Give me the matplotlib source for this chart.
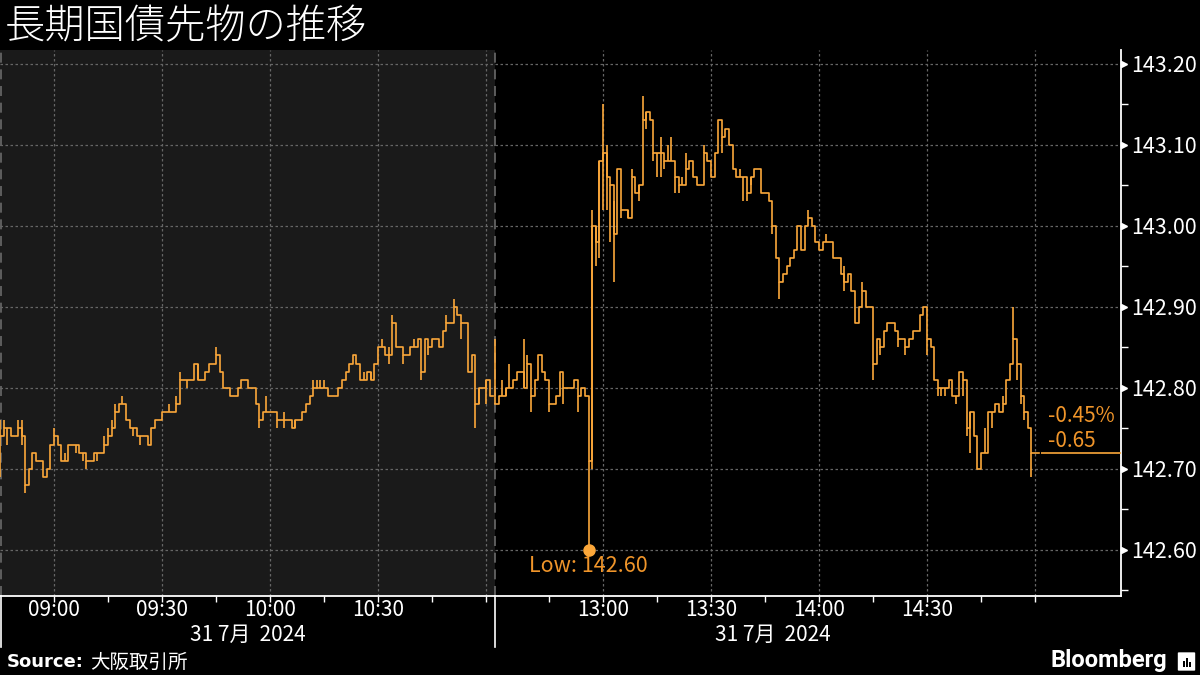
import numpy as np
import matplotlib
matplotlib.use('Agg')
import matplotlib.pyplot as plt
from matplotlib.transforms import ScaledTranslation, blended_transform_factory
from matplotlib.patches import FancyBboxPatch, Rectangle

plt.rcParams['font.family'] = ['Noto Sans CJK JP', 'DejaVu Sans']

title = '長期国債先物の推移'
source = '大阪取引所'
date_label = '31 7月  2024'

# session layout (minutes)
am_start, am_end = '08:45', '11:02'
pm_start = '12:30'
gap_pos = 137.5          # where afternoon session starts on the x axis

# 1-minute closes, morning session from 08:45
am_close = [142.74, 142.75, 142.75, 142.74, 142.74, 142.75, 142.74, 142.68, 142.70, 142.72,
            142.71, 142.71, 142.69, 142.70, 142.73, 142.74, 142.73, 142.71, 142.71, 142.73,
            142.73, 142.73, 142.72, 142.72, 142.71, 142.71, 142.72, 142.72, 142.72, 142.73,
            142.74, 142.75, 142.77, 142.78, 142.78, 142.76, 142.75, 142.75, 142.74, 142.74,
            142.74, 142.73, 142.75, 142.76, 142.76, 142.77, 142.77, 142.77, 142.77, 142.78,
            142.81, 142.81, 142.81, 142.81, 142.83, 142.81, 142.81, 142.82, 142.83, 142.83,
            142.84, 142.82, 142.80, 142.80, 142.79, 142.79, 142.80, 142.81, 142.81, 142.80,
            142.80, 142.78, 142.76, 142.77, 142.77, 142.77, 142.77, 142.76, 142.76, 142.76,
            142.76, 142.75, 142.76, 142.76, 142.77, 142.78, 142.79, 142.80, 142.80, 142.80,
            142.80, 142.79, 142.79, 142.79, 142.80, 142.81, 142.82, 142.83, 142.84, 142.83,
            142.81, 142.81, 142.82, 142.81, 142.83, 142.85, 142.85, 142.84, 142.84, 142.88,
            142.85, 142.85, 142.84, 142.84, 142.85, 142.85, 142.86, 142.82, 142.86, 142.85,
            142.86, 142.86, 142.85, 142.87, 142.88, 142.88, 142.90, 142.89, 142.88, 142.88,
            142.82, 142.84, 142.78, 142.80, 142.80, 142.81, 142.79]
am_high = {0: 142.76, 1: 142.76, 5: 142.76, 6: 142.76, 15: 142.75, 18: 142.72, 29: 142.74,
           30: 142.75, 31: 142.76, 32: 142.78, 34: 142.79, 47: 142.78, 49: 142.79, 50: 142.82,
           55: 142.83, 60: 142.85, 74: 142.79, 79: 142.77, 87: 142.81, 88: 142.81, 89: 142.81,
           90: 142.81, 101: 142.82, 103: 142.82, 106: 142.86, 108: 142.85, 109: 142.89,
           115: 142.86, 124: 142.89, 126: 142.91}
am_low = {0: 142.69, 2: 142.73, 6: 142.73, 7: 142.67, 21: 142.72, 23: 142.71, 24: 142.70,
          27: 142.71, 37: 142.74, 39: 142.73, 52: 142.80, 62: 142.80, 72: 142.75, 77: 142.75,
          79: 142.75, 82: 142.75, 108: 142.83, 112: 142.83, 117: 142.81, 119: 142.84,
          128: 142.86, 132: 142.75, 133: 142.78, 135: 142.78}

# 1-minute closes, afternoon session from 12:30
pm_close = [142.78, 142.79, 142.79, 142.80, 142.80, 142.81, 142.82, 142.82, 142.80, 142.83,
            142.79, 142.81, 142.84, 142.82, 142.81, 142.78, 142.78, 142.79, 142.82, 142.80,
            142.80, 142.80, 142.81, 142.79, 142.80, 142.79, 142.71, 143.00, 142.98, 143.08,
            143.09, 143.06, 143.05, 142.99, 143.07, 143.02, 143.02, 143.01, 143.06, 143.04,
            143.05, 143.13, 143.14, 143.13, 143.09, 143.09, 143.09, 143.08, 143.08, 143.08,
            143.06, 143.05, 143.05, 143.07, 143.08, 143.06, 143.05, 143.05, 143.09, 143.08,
            143.06, 143.09, 143.13, 143.11, 143.12, 143.10, 143.07, 143.06, 143.06, 143.06,
            143.04, 143.06, 143.07, 143.07, 143.04, 143.04, 143.03, 143.00, 142.96, 142.93,
            142.94, 142.95, 142.96, 142.97, 143.00, 142.97, 143.00, 143.01, 143.00, 142.98,
            142.97, 142.98, 142.98, 142.98, 142.96, 142.96, 142.94, 142.93, 142.94, 142.92,
            142.88, 142.90, 142.92, 142.90, 142.90, 142.83, 142.86, 142.85, 142.87, 142.88,
            142.88, 142.87, 142.86, 142.86, 142.85, 142.86, 142.87, 142.87, 142.89, 142.90,
            142.86, 142.85, 142.81, 142.80, 142.80, 142.80, 142.81, 142.79, 142.79, 142.82,
            142.81, 142.75, 142.77, 142.74, 142.70, 142.72, 142.72, 142.77, 142.77, 142.78,
            142.77, 142.78, 142.81, 142.83, 142.86, 142.83, 142.79, 142.77, 142.75, 142.72,
            142.72]
pm_high = {0: 142.86, 2: 142.81, 4: 142.83, 8: 142.86, 9: 142.84, 27: 143.02, 28: 143.00,
           30: 143.15, 31: 143.10, 33: 143.03, 37: 143.02, 38: 143.07, 41: 143.16, 46: 143.11,
           48: 143.10, 49: 143.11, 52: 143.06, 53: 143.09, 58: 143.10, 68: 143.07, 87: 143.02,
           92: 142.99, 97: 142.95, 102: 142.93, 136: 142.75, 141: 142.79, 144: 142.90}
pm_low = {3: 142.79, 10: 142.77, 15: 142.77, 19: 142.78, 23: 142.77, 26: 142.60, 27: 142.70,
          28: 142.95, 29: 142.96, 30: 143.02, 31: 143.02, 32: 142.98, 33: 142.93, 35: 143.01,
          40: 143.03, 42: 143.12, 44: 143.08, 45: 143.06, 46: 143.06, 47: 143.07, 50: 143.04,
          51: 143.04, 63: 143.09, 69: 143.03, 70: 143.03, 71: 143.05, 77: 142.99, 79: 142.91,
          97: 142.92, 105: 142.81, 107: 142.84, 112: 142.85, 114: 142.84, 120: 142.84,
          123: 142.79, 124: 142.79, 125: 142.79, 128: 142.78, 130: 142.79, 131: 142.74,
          132: 142.72, 138: 142.75, 145: 142.81, 146: 142.78, 147: 142.76, 149: 142.69}

prev_close = 143.37

major_times = ['09:00', '09:30', '10:00', '10:30', '11:00', '13:00', '13:30', '14:00', '14:30', '15:00']
major_labels = ['09:00', '09:30', '10:00', '10:30', '', '13:00', '13:30', '14:00', '14:30', '']
minor_times = ['09:15', '09:45', '10:15', '10:45', '12:45', '13:15', '13:45', '14:15', '14:45']
yticks = [142.60, 142.70, 142.80, 142.90, 143.00, 143.10, 143.20]

orange = '#fba73a'
orange_txt = '#f0952a'
grid_c = '#666666'


def mins(t):
    h, m = t.split(':')
    return int(h) * 60 + int(m)


def tx(t):
    # time string -> x position with lunch break removed
    if mins(t) < mins(pm_start):
        return mins(t) - mins(am_start)
    return gap_pos + mins(t) - mins(pm_start)


fig = plt.figure(figsize=(12, 6.75), dpi=100, facecolor='black')
ax = fig.add_axes([0, 1 - 596 / 675, 1121 / 1200, (596 - 50) / 675])
ax.set_facecolor('black')
ax.set_xlim(0, 311.4)
ax.set_ylim(142.543, 143.217)

# morning session shading
ax.axvspan(0, gap_pos, color='#1a1a1a', zorder=0, lw=0)
ax.axvline(0.3, color='#6a6a6a', lw=1.2, ls=(0, (6, 4)), zorder=1)
ax.axvline(gap_pos, color='#6a6a6a', lw=1.2, ls=(0, (6, 4)), zorder=1)

for x in [tx(t) for t in major_times]:
    ax.axvline(x, color=grid_c, lw=0.9, ls=(0, (2, 2)), zorder=1)
for y in yticks:
    ax.axhline(y, color=grid_c, lw=0.9, ls=(0, (2, 2)), zorder=1)

# price bars
for start, close, hi, lo in [(0, am_close, am_high, am_low),
                             (gap_pos, pm_close, pm_high, pm_low)]:
    n = len(close)
    xs = start + np.arange(n)
    c = np.array(close)
    h = np.array([max(hi.get(i, close[i]), close[i]) for i in range(n)])
    l = np.array([min(lo.get(i, close[i]), close[i]) for i in range(n)])
    ax.step(np.append(xs, xs[-1] + 1), np.append(c, c[-1]), where='post',
            color=orange, lw=1.2, zorder=3)
    ax.vlines(xs, l, h, color=orange, lw=1.2, zorder=3)

# low marker
low_i = min(pm_low, key=pm_low.get)
low_v = pm_low[low_i]
ax.plot(gap_pos + low_i, low_v, 'o', ms=8, color=orange, zorder=4)
ax.annotate(f'Low: {low_v:.2f}', (gap_pos + low_i, low_v), xytext=(0, -16),
            textcoords='offset pixels', ha='center', va='center', color=orange_txt,
            fontsize=15.5)

# last price line and change labels
last = pm_close[-1]
chg = last - prev_close
pct = chg / prev_close * 100
ax.hlines(last, gap_pos + len(pm_close) + 0.8, 311.4, color=orange, lw=1.2, zorder=3)
lx = gap_pos + len(pm_close) + 2.6
ax.annotate(f'{pct:.2f}%', (lx, last), xytext=(0, 37), textcoords='offset pixels',
            ha='left', va='center', color=orange_txt, fontsize=15)
ax.annotate(f'{chg:.2f}', (lx, last), xytext=(0, 12), textcoords='offset pixels',
            ha='left', va='center', color=orange_txt, fontsize=15)

# axes styling
for s in ['left', 'top']:
    ax.spines[s].set_visible(False)
for s in ['right', 'bottom']:
    ax.spines[s].set_color('white')
    ax.spines[s].set_linewidth(1.3)

ax.yaxis.tick_right()
ax.set_yticks(yticks)
ax.set_yticklabels([f'{v:.2f}' for v in yticks])
ax.set_yticks(np.arange(142.55, 143.2, 0.1), minor=True)
ax.tick_params(axis='y', which='major', length=0, pad=7, labelsize=15.5, labelcolor='white')
ax.tick_params(axis='y', which='minor', length=5, width=1, color='white', direction='out')
tri_tr = ax.get_yaxis_transform() + ScaledTranslation(3 / 100, 0, fig.dpi_scale_trans)
ax.plot([1.0] * len(yticks), yticks, '>', ms=5, color='white', transform=tri_tr,
        clip_on=False, zorder=5)

ax.set_xticks([tx(t) for t in major_times])
ax.set_xticklabels(major_labels)
ax.set_xticks([tx(t) for t in minor_times], minor=True)
ax.tick_params(axis='x', which='both', length=4, width=1, color='white', direction='out',
               pad=-2, labelsize=15, labelcolor='white')

# session separators and date labels below the axis
btr = blended_transform_factory(ax.transData, ax.transAxes)
for x in [0.3, gap_pos]:
    ax.plot([x, x], [0, -51 / 546], color='white', lw=1.2, transform=btr, clip_on=False)
ax.text(gap_pos / 2, -39 / 546, date_label, transform=btr, ha='center', va='center',
        color='white', fontsize=15)
ax.text((gap_pos + 292) / 2, -39 / 546, date_label, transform=btr, ha='center', va='center',
        color='white', fontsize=15)

# title and footer
fig.text(0.004, 1 - 27 / 675, title, color='white', fontsize=29, fontweight='light',
         ha='left', va='center')
fig.text(7 / 1200, 1 - 662 / 675, 'Source:', color='white', fontsize=13, fontweight='bold',
         ha='left', va='center', family=['DejaVu Sans'])
fig.text(90 / 1200, 1 - 662 / 675, source, color='white', fontsize=14,
         ha='left', va='center')
fig.text(1167 / 1200, 1 - 661 / 675, 'Bloomberg', color='white', fontsize=17,
         fontweight='bold', ha='right', va='center', family=['Roboto', 'DejaVu Sans'])
fig.patches.append(FancyBboxPatch((1179 / 1200, 1 - 670 / 675), 15 / 1200, 17 / 675,
                                  boxstyle='round,pad=0.001', transform=fig.transFigure,
                                  facecolor='white', edgecolor='none'))
for bx, bh in [(1183, 6), (1186, 9), (1189, 5)]:
    fig.patches.append(Rectangle((bx / 1200, 1 - 667 / 675), 1.6 / 1200, bh / 675,
                                 transform=fig.transFigure, facecolor='black',
                                 edgecolor='none'))

plt.savefig('out.png', dpi=100, facecolor='black')
